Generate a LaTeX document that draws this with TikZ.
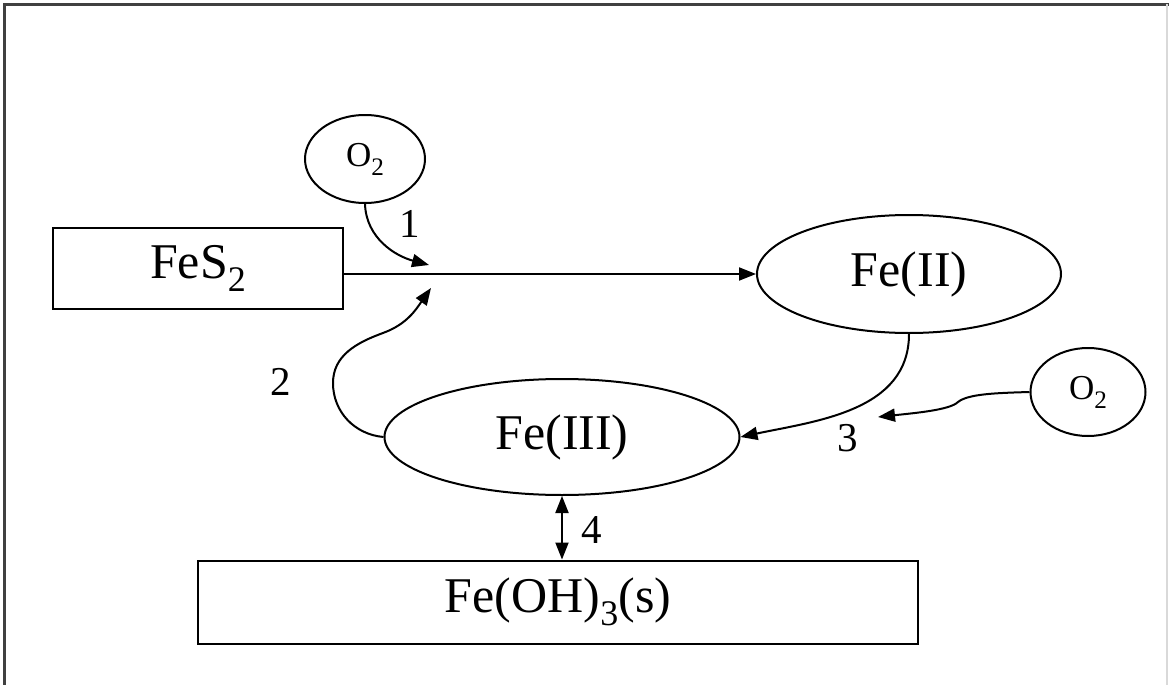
\documentclass[tikz,border=0pt]{standalone}
\usepackage{fontspec}
\setmainfont{Liberation Serif}
\usetikzlibrary{positioning,arrows.meta,shapes.geometric}
\newcommand{\lowsub}[1]{\raisebox{-0.26em}{\scalebox{0.72}{#1}}}

\begin{document}
\begin{tikzpicture}[
  x=0.5pt, y=0.5pt,
  >={Triangle[length=8.5pt, width=6.5pt]},
  species/.style={draw, line width=1pt, minimum width=145pt, minimum height=40.5pt, inner sep=0pt, font=\fontsize{25}{28}\selectfont},
  ion/.style={draw, ellipse, line width=1pt, inner sep=0pt, font=\fontsize{25}{28}\selectfont},
  oxy/.style={draw, ellipse, line width=1pt, inner sep=0pt, minimum width=60pt, minimum height=44pt, font=\fontsize{17.5}{20}\selectfont},
  step num/.style={font=\fontsize{20.5}{24}\selectfont},
  arr/.style={->, line width=1pt}
]
  \useasboundingbox (0,0) rectangle (1169,-685);
  % frame
  \draw[line width=1.5pt, black!75] (4,-685) -- (4,-4) -- (1169,-4);
  \draw[line width=0.6pt, black!15] (1167,-4) -- (1167,-685);

  \node[species] (pyrite) at (198,-268) {FeS\lowsub{2}};
  \node[ion, minimum width=152pt, minimum height=59pt] (ferrous) at (909,-274) {Fe(II)};
  \node[ion, minimum width=177.5pt, minimum height=58pt] (ferric) at (562,-437) {Fe(III)};
  \node[species, minimum width=360pt, minimum height=41.5pt] (hydrox) at (558,-602) {Fe(OH)\lowsub{3}(s)};
  \node[oxy] (oxya) at (365,-159) {O\lowsub{2}};
  \node[oxy, minimum width=57.5pt] (oxyb) at (1088,-392) {O\lowsub{2}};

  \coordinate (tipa) at (429,-265);
  \coordinate (tipb) at (431,-288);
  \coordinate (tipc) at (878,-417);

  \draw[arr] (pyrite.east |- ferrous.west) -- (ferrous.west);
  \draw[arr] (oxya.south) to[out=-88, in=165] (tipa);
  \draw[arr] (ferric.west) to[out=175, in=-90] (333,-383) to[out=90, in=200] (383,-333) to[out=20, in=-125] (tipb);
  \draw[arr] (ferrous.south) to[out=-90, in=12] (ferric.east);
  \draw[arr] (oxyb.west) .. controls (995,-393) and (968,-394) .. (958,-402) .. controls (950,-410) and (915,-413) .. (tipc);
  \draw[<->, line width=1pt] (ferric.south) -- (ferric.south |- hydrox.north);

  \node[step num] (n1) at (410,-224) {1};
  \node[step num] (n2) at (281,-382) {2};
  \node[step num] (n3) at (848,-438) {3};
  \node[step num] (n4) at (592,-530) {4};
\end{tikzpicture}
\end{document}
